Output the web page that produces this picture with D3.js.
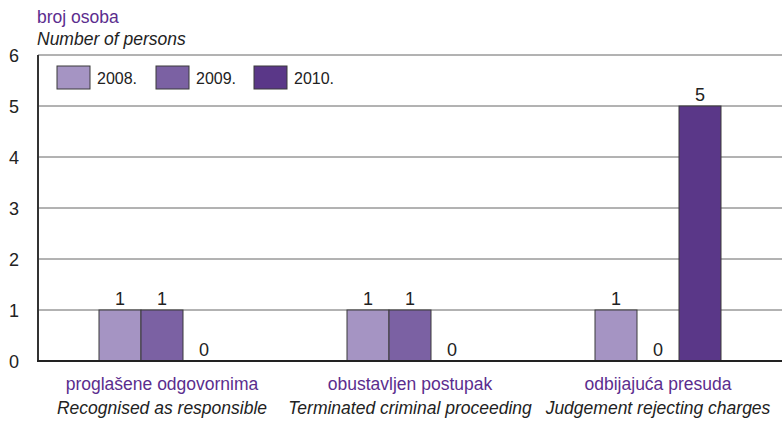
<!DOCTYPE html>
<html>
<head>
<meta charset="utf-8">
<script src="https://cdn.jsdelivr.net/npm/d3@7"></script>
<style>
  html, body { margin: 0; padding: 0; background: #fff; }
  svg { display: block; font-family: "Liberation Sans", Arial, sans-serif; }
</style>
</head>
<body>
<svg id="chart" width="782" height="421"></svg>
<script>
// Categories (Croatian label + English label)
const categoriesHr = ["proglašene odgovornima", "obustavljen postupak", "odbijajuća presuda"];
const categoriesEn = ["Recognised as responsible", "Terminated criminal proceeding", "Judgement rejecting charges"];
const years = ["2008.", "2009.", "2010."];
const values2008 = [1, 1, 1];
const values2009 = [1, 1, 0];
const values2010 = [0, 0, 5];
const yTicks = [0, 1, 2, 3, 4, 5, 6];
const colors = ["#a594c3", "#7b61a3", "#5a3788"];

const series = [values2008, values2009, values2010];

const svg = d3.select("#chart");
const margin = { left: 38, right: 0, top: 55, bottom: 60 };
const W = 782, H = 421;
const plotBottom = 361;

const x0 = d3.scaleBand().domain(d3.range(categoriesHr.length)).range([margin.left, W]).padding(0);
const barW = 42;
const x1 = d3.scaleBand().domain(d3.range(years.length))
  .range([x0.bandwidth() / 2 - barW * 1.5, x0.bandwidth() / 2 + barW * 1.5]).padding(0);
const y = d3.scaleLinear().domain([0, 6]).range([plotBottom, margin.top]);

// Horizontal gridlines
svg.append("g")
  .selectAll("line")
  .data(yTicks.filter(t => t > 0))
  .join("line")
  .attr("x1", margin.left).attr("x2", W)
  .attr("y1", d => y(d)).attr("y2", d => y(d))
  .attr("stroke", "#666").attr("stroke-width", 1);

// Y axis with labels on the far left
const yAxis = d3.axisLeft(y).tickValues(yTicks).tickSize(0).tickFormat(d3.format("d"));
const yg = svg.append("g").attr("transform", `translate(${margin.left},0)`).call(yAxis);
yg.select(".domain").remove();
yg.selectAll("text")
  .attr("x", -24).attr("dy", "0.35em")
  .attr("text-anchor", "middle")
  .style("font-size", "18px").attr("fill", "#222");

// Bars
const groups = svg.append("g").selectAll("g")
  .data(categoriesHr.map((c, i) => i))
  .join("g")
  .attr("transform", i => `translate(${x0(i)},0)`);

groups.selectAll("rect")
  .data(i => series.map((s, k) => ({ k, v: s[i] })))
  .join("rect")
  .attr("x", d => x1(d.k))
  .attr("width", x1.bandwidth())
  .attr("y", d => y(d.v))
  .attr("height", d => y(0) - y(d.v))
  .attr("fill", d => colors[d.k])
  .attr("stroke", d => d.v > 0 ? "#3a3a3a" : "none")
  .attr("stroke-width", 1);

// Value labels
groups.selectAll("text.val")
  .data(i => series.map((s, k) => ({ k, v: s[i] })))
  .join("text")
  .attr("class", "val")
  .attr("x", d => x1(d.k) + x1.bandwidth() / 2)
  .attr("y", d => y(d.v) - 5)
  .attr("text-anchor", "middle")
  .style("font-size", "18px")
  .attr("fill", "#222")
  .text(d => d.v);

// Axis lines (left and baseline)
svg.append("line")
  .attr("x1", margin.left).attr("x2", margin.left)
  .attr("y1", y(6)).attr("y2", y(0) + 1)
  .attr("stroke", "#333").attr("stroke-width", 2);
svg.append("line")
  .attr("x1", margin.left - 1).attr("x2", W)
  .attr("y1", y(0)).attr("y2", y(0))
  .attr("stroke", "#222").attr("stroke-width", 2);

// Category labels
const cat = svg.append("g");
cat.selectAll("text.hr")
  .data(categoriesHr)
  .join("text")
  .attr("class", "hr")
  .attr("x", (d, i) => x0(i) + x0.bandwidth() / 2)
  .attr("y", 390)
  .attr("text-anchor", "middle")
  .style("font-size", "17.5px")
  .attr("fill", "#5b2d8e")
  .text(d => d);
cat.selectAll("text.en")
  .data(categoriesEn)
  .join("text")
  .attr("class", "en")
  .attr("x", (d, i) => x0(i) + x0.bandwidth() / 2)
  .attr("y", 414)
  .attr("text-anchor", "middle")
  .style("font-size", "17.5px")
  .style("font-style", "italic")
  .attr("fill", "#222")
  .text(d => d);

// Axis title
svg.append("text").attr("x", 37).attr("y", 23)
  .style("font-size", "17.5px").attr("fill", "#5b2d8e").text("broj osoba");
svg.append("text").attr("x", 37).attr("y", 45)
  .style("font-size", "17.5px").style("font-style", "italic").attr("fill", "#222")
  .text("Number of persons");

// Legend
const legendX = [57, 156, 254];
const lg = svg.append("g").selectAll("g")
  .data(years)
  .join("g")
  .attr("transform", (d, i) => `translate(${legendX[i]},66)`);
lg.append("rect")
  .attr("width", 33).attr("height", 23)
  .attr("fill", (d, i) => colors[i])
  .attr("stroke", "#3a3a3a").attr("stroke-width", 1);
lg.append("text")
  .attr("x", 40).attr("y", 17.5)
  .style("font-size", "16px").attr("fill", "#222")
  .text(d => d);
</script>
</body>
</html>
